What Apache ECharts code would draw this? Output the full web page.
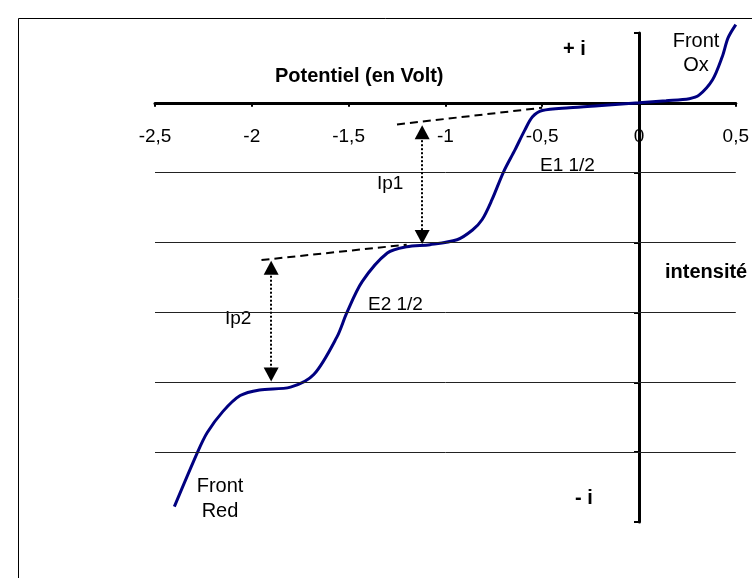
<!DOCTYPE html>
<html>
<head>
<meta charset="utf-8">
<script src="https://cdn.jsdelivr.net/npm/echarts@6/dist/echarts.min.js"></script>
<style>
html, body { margin: 0; padding: 0; background: #fff; }
#chart { width: 752px; height: 578px; }
</style>
</head>
<body>
<div id="chart"></div>
<script>
// courbe i = f(E)
var potentiel = [-2.40, -2.28, -2.23, -2.15, -2.06, -1.96, -1.80, -1.68, -1.56, -1.51, -1.43, -1.30, -1.20, -1.08,
  -0.94, -0.86, -0.81, -0.76, -0.70, -0.64, -0.59, -0.55, -0.50, -0.36, -0.21, 0, 0.14, 0.26, 0.31, 0.38, 0.43, 0.46, 0.50];
var intensite = [-5.78, -5.00, -4.72, -4.42, -4.19, -4.11, -4.07, -3.89, -3.35, -3.01, -2.56, -2.15, -2.06, -2.03,
  -1.96, -1.82, -1.67, -1.39, -0.99, -0.67, -0.39, -0.20, -0.11, -0.07, -0.04, 0, 0.03, 0.06, 0.11, 0.33, 0.66, 0.93, 1.12];

var gridLevels = [-1, -2, -3, -4, -5];

// tangentes (pointillés) et flèches Ip
var tangente1 = [[-1.25, -0.31], [-0.50, -0.07]];
var tangente2 = [[-1.95, -2.25], [-1.20, -2.03]];
var flecheIp1 = [[-1.12, -0.42], [-1.12, -1.92]];
var flecheIp2 = [[-1.90, -2.36], [-1.90, -3.89]];

var police = "'Liberation Sans', Arial, sans-serif";

function fmt(v) {
  return String(v).replace('.', ',');
}

var chart = echarts.init(document.getElementById('chart'));

var courbe = potentiel.map(function (x, i) { return [x, intensite[i]]; });

// axe des x posé sur i = 0 : 1/7 de la hauteur sous le haut de la grille
var gridTop = 33, gridHeight = 489;
var decalageX = -gridHeight / 7;

var option = {
  animation: false,
  backgroundColor: '#fff',
  textStyle: { fontFamily: police },
  grid: { left: 155, right: 15, top: gridTop, height: gridHeight },
  xAxis: {
    type: 'value',
    position: 'top',
    offset: decalageX,
    min: -2.5,
    max: 0.5,
    interval: 0.5,
    axisLine: { onZero: false, lineStyle: { color: '#000', width: 3 } },
    axisTick: { show: true, inside: true, length: 4, lineStyle: { color: '#000', width: 2 } },
    axisLabel: { inside: true, color: '#000', fontSize: 19, margin: 24, formatter: fmt, fontFamily: police },
    splitLine: { show: false }
  },
  yAxis: {
    type: 'value',
    min: -6,
    max: 1,
    interval: 1,
    axisLine: { onZero: true, lineStyle: { color: '#000', width: 3 } },
    axisTick: { show: true, length: 5, lineStyle: { color: '#000', width: 2 } },
    axisLabel: { show: false },
    splitLine: { show: false }
  },
  series: [
    {
      // lignes horizontales
      type: 'line',
      data: [],
      z: 1,
      silent: true,
      markLine: {
        silent: true,
        symbol: ['none', 'none'],
        label: { show: false },
        lineStyle: { color: '#222', width: 1, type: 'solid' },
        data: gridLevels.map(function (v) { return { yAxis: v }; })
      }
    },
    {
      type: 'line',
      data: [],
      z: 2,
      silent: true,
      markLine: {
        silent: true,
        symbol: ['none', 'none'],
        label: { show: false },
        lineStyle: { color: '#000', width: 2, type: [8, 5] },
        data: [
          [{ coord: tangente1[0] }, { coord: tangente1[1] }],
          [{ coord: tangente2[0] }, { coord: tangente2[1] }]
        ]
      }
    },
    {
      type: 'line',
      data: [],
      z: 2,
      silent: true,
      markLine: {
        silent: true,
        symbol: ['triangle', 'triangle'],
        symbolSize: [15, 14],
        label: { show: false },
        lineStyle: { color: '#000', width: 2, type: [2, 2] },
        itemStyle: { color: '#000' },
        data: [
          [{ coord: flecheIp1[0] }, { coord: flecheIp1[1] }],
          [{ coord: flecheIp2[0] }, { coord: flecheIp2[1] }]
        ]
      }
    },
    {
      type: 'line',
      data: courbe,
      z: 3,
      smooth: 0.3,
      showSymbol: false,
      clip: false,
      lineStyle: { color: '#000080', width: 3 }
    }
  ],
  graphic: [
    { type: 'rect', shape: { x: 18.5, y: 18.5, width: 760, height: 600 }, style: { fill: 'none', stroke: '#000', lineWidth: 1 }, silent: true },
    { type: 'text', x: 275, y: 66, style: { text: 'Potentiel (en Volt)', font: 'bold 20px ' + police, fill: '#000' } },
    { type: 'text', x: 563, y: 39, style: { text: '+ i', font: 'bold 20px ' + police, fill: '#000' } },
    { type: 'text', x: 575, y: 488, style: { text: '- i', font: 'bold 20px ' + police, fill: '#000' } },
    { type: 'text', x: 665, y: 262, style: { text: 'intensité', font: 'bold 20px ' + police, fill: '#000' } },
    { type: 'text', x: 696, y: 29, style: { text: 'Front\nOx', font: '20px ' + police, fill: '#000', align: 'center', lineHeight: 24 } },
    { type: 'text', x: 220, y: 474, style: { text: 'Front\nRed', font: '20px ' + police, fill: '#000', align: 'center', lineHeight: 25 } },
    { type: 'text', x: 377, y: 174, style: { text: 'Ip1', font: '19px ' + police, fill: '#000' } },
    { type: 'text', x: 225, y: 309, style: { text: 'Ip2', font: '19px ' + police, fill: '#000' } },
    { type: 'text', x: 540, y: 156, style: { text: 'E1 1/2', font: '19px ' + police, fill: '#000' } },
    { type: 'text', x: 368, y: 295, style: { text: 'E2 1/2', font: '19px ' + police, fill: '#000' } }
  ]
};

chart.setOption(option);
</script>
</body>
</html>
